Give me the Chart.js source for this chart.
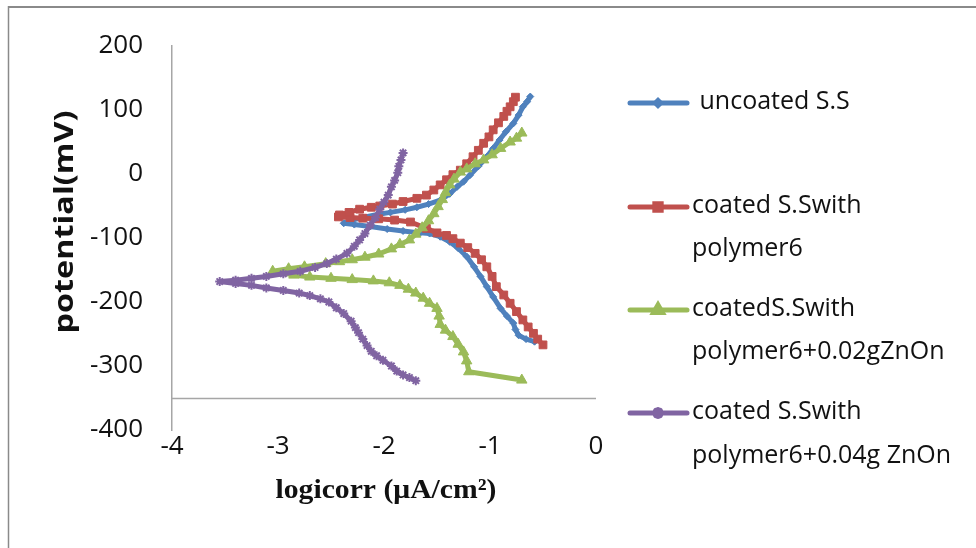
<!DOCTYPE html>
<html>
<head>
<meta charset="utf-8">
<script src="https://cdn.jsdelivr.net/npm/chart.js@4.4.1/dist/chart.umd.min.js"></script>
<style>
  html, body { margin: 0; padding: 0; background: #ffffff; }
  canvas { display: block; }
</style>
</head>
<body>
<canvas id="c" width="976" height="548"></canvas>
<script>
// ---- data ----
const seriesNames = [' uncoated S.S', 'coated S.Swith polymer6', 'coatedS.Swith polymer6+0.02gZnOn', 'coated S.Swith polymer6+0.04g ZnOn'];
const legendLines = [[' uncoated S.S'], ['coated S.Swith', 'polymer6'], ['coatedS.Swith', 'polymer6+0.02gZnOn'], ['coated S.Swith', 'polymer6+0.04g ZnOn']];
const xTicks = [-4, -3, -2, -1, 0];
const yTicks = [-400, -300, -200, -100, 0, 100, 200];

const blueX = [-0.58,-0.66,-0.73,-0.76,-0.78,-0.84,-0.90,-0.97,-1.03,-1.09,-1.15,-1.22,-1.30,-1.38,-1.47,-1.57,-1.66,-1.82,-1.97,-2.13,-2.28,-2.38,-2.30,-2.20,-2.05,-1.94,-1.80,-1.69,-1.58,-1.47,-1.38,-1.31,-1.25,-1.19,-1.11,-1.03,-0.97,-0.91,-0.85,-0.78,-0.73,-0.69,-0.65,-0.62];
const blueY = [-262,-258,-252,-243,-233,-222,-210,-192,-176,-160,-145,-129,-116,-106,-98,-93,-92,-89,-86,-82,-79,-77,-72,-68,-63,-60,-56,-52,-47,-41,-31,-20,-12,-2,12,27,40,53,66,79,92,105,113,121];

const redX = [-0.50,-0.55,-0.59,-0.64,-0.69,-0.75,-0.81,-0.87,-0.94,-0.98,-1.03,-1.08,-1.14,-1.21,-1.28,-1.35,-1.41,-1.50,-1.60,-1.75,-1.90,-2.05,-2.20,-2.32,-2.43,-2.42,-2.33,-2.23,-2.12,-2.04,-1.92,-1.82,-1.69,-1.60,-1.53,-1.47,-1.41,-1.35,-1.28,-1.22,-1.16,-1.11,-1.06,-1.01,-0.97,-0.92,-0.87,-0.84,-0.81,-0.78,-0.76];
const redY = [-267,-258,-249,-239,-228,-215,-202,-189,-176,-160,-145,-134,-124,-115,-108,-101,-96,-92,-85,-75,-72,-70,-69,-68,-67,-64,-60,-55,-52,-50,-47,-43,-38,-33,-25,-17,-9,-1,6,16,27,37,48,58,69,80,90,98,105,113,120];

const greenX = [-0.70,-1.20,-1.22,-1.25,-1.30,-1.35,-1.42,-1.47,-1.48,-1.50,-1.57,-1.63,-1.70,-1.77,-1.85,-1.95,-2.10,-2.30,-2.50,-2.70,-2.85,-3.05,-2.90,-2.75,-2.55,-2.42,-2.30,-2.18,-2.05,-1.93,-1.85,-1.76,-1.70,-1.64,-1.58,-1.53,-1.49,-1.45,-1.42,-1.38,-1.34,-1.28,-1.22,-1.14,-1.06,-0.98,-0.90,-0.81,-0.75,-0.70];
const greenY = [-322,-309,-292,-278,-266,-254,-244,-235,-222,-210,-202,-194,-186,-180,-174,-170,-167,-165,-163,-161,-158,-152,-148,-145,-140,-137,-134,-130,-125,-117,-110,-103,-94,-84,-73,-62,-51,-40,-29,-17,-8,3,8,16,22,30,40,50,56,64];

const purpleX = [-1.70,-1.76,-1.82,-1.88,-1.93,-2.01,-2.07,-2.12,-2.16,-2.20,-2.24,-2.27,-2.31,-2.38,-2.45,-2.52,-2.60,-2.70,-2.80,-2.95,-3.11,-3.25,-3.40,-3.55,-3.40,-3.25,-3.11,-2.95,-2.79,-2.65,-2.54,-2.45,-2.35,-2.28,-2.23,-2.18,-2.13,-2.08,-2.04,-2.00,-1.96,-1.93,-1.90,-1.87,-1.86,-1.84,-1.82];
const purpleY = [-323,-318,-314,-308,-300,-291,-284,-277,-268,-258,-248,-240,-230,-218,-209,-200,-195,-190,-186,-182,-178,-174,-171,-168,-166,-163,-160,-156,-152,-146,-140,-133,-124,-113,-103,-93,-80,-68,-55,-44,-33,-20,-10,2,12,22,33];

const xAxisCross = -350;

// ---- styles ----
const colors = ['#4F81BD', '#C0504D', '#9BBB59', '#8064A2'];
const pStyles = ['rectRot', 'rect', 'triangle', 'star'];
const pRadius = [3.5, 5.5, 6, 4.5];
const TICK_FONT = { family: 'Open Sans', size: 26 };

function pts(xs, ys) { return xs.map((x, i) => ({ x: x, y: ys[i] })); }
const allX = [blueX, redX, greenX, purpleX];
const allY = [blueY, redY, greenY, purpleY];

const datasets = allX.map((xs, i) => ({
  label: seriesNames[i],
  data: pts(xs, allY[i]),
  showLine: true,
  borderColor: colors[i],
  backgroundColor: colors[i],
  borderWidth: 5,
  borderJoinStyle: 'round',
  borderCapStyle: 'round',
  pointStyle: pStyles[i],
  pointRadius: pRadius[i],
  pointBorderColor: colors[i],
  pointBackgroundColor: colors[i],
  pointBorderWidth: i === 3 ? 2 : 1,
  tension: 0,
  order: 4 - i
}));

const framePlugin = {
  id: 'frame',
  beforeDraw(chart) {
    const ctx = chart.ctx;
    ctx.save();
    ctx.fillStyle = '#ffffff';
    ctx.fillRect(0, 0, chart.width, chart.height);
    ctx.strokeStyle = '#8a8a8a';
    ctx.lineWidth = 2;
    ctx.beginPath();
    ctx.moveTo(8, 7); ctx.lineTo(chart.width, 7);
    ctx.stroke();
    ctx.lineWidth = 1.5;
    ctx.beginPath();
    ctx.moveTo(8.5, 6); ctx.lineTo(8.5, chart.height);
    ctx.stroke();
    ctx.restore();
  },
  beforeDatasetsDraw(chart) {
    const ctx = chart.ctx, xs = chart.scales.x, ys = chart.scales.y;
    const yp = Math.round(ys.getPixelForValue(xAxisCross)) + 0.5;
    ctx.save();
    ctx.strokeStyle = '#a6a6a6';
    ctx.lineWidth = 1.5;
    ctx.beginPath();
    ctx.moveTo(xs.left, yp); ctx.lineTo(xs.right, yp);
    ctx.stroke();
    ctx.restore();
  },
  afterDraw(chart) {
    const ctx = chart.ctx;
    ctx.save();
    // y axis title
    ctx.fillStyle = '#111111';
    ctx.font = 'bold 27px "Open Sans"';
    ctx.textAlign = 'center';
    ctx.textBaseline = 'middle';
    const yt = 'potential(mV)';
    const w1 = ctx.measureText(yt).width;
    ctx.translate(65, 222);
    ctx.rotate(-Math.PI / 2);
    ctx.scale(223 / w1, 1);
    ctx.fillText(yt, 0, 0);
    ctx.restore();

    // x axis title
    ctx.save();
    ctx.fillStyle = '#111111';
    ctx.font = 'bold 28px "Liberation Serif"';
    ctx.textAlign = 'center';
    ctx.textBaseline = 'middle';
    const xt = 'logicorr (\u03bcA/cm\u00b2)';
    const w2 = ctx.measureText(xt).width;
    ctx.translate(386, 491);
    ctx.scale(221 / w2, 1);
    ctx.fillText(xt, 0, 0);
    ctx.restore();

    // legend
    const rows = [[103], [207, 250], [310, 353], [413, 457]];
    ctx.save();
    ctx.font = '25px "Open Sans"';
    ctx.textBaseline = 'middle';
    ctx.textAlign = 'left';
    legendLines.forEach((lines, i) => {
      const y = rows[i][0];
      ctx.strokeStyle = colors[i];
      ctx.lineWidth = 5;
      ctx.lineCap = 'round';
      ctx.beginPath();
      ctx.moveTo(630, y); ctx.lineTo(687, y);
      ctx.stroke();
      ctx.fillStyle = colors[i];
      Chart.helpers.drawPoint(ctx, {
        pointStyle: pStyles[i], radius: pRadius[i] - 1, rotation: 0,
        borderWidth: i === 3 ? 2 : 1
      }, 658, y);
      ctx.fillStyle = '#111111';
      lines.forEach((t, k) => {
        ctx.fillText(t, i === 0 ? 693 : 692, rows[i][k] - 1);
      });
    });
    ctx.restore();
  }
};

new Chart(document.getElementById('c'), {
  type: 'scatter',
  data: { datasets: datasets },
  plugins: [framePlugin],
  options: {
    responsive: false,
    devicePixelRatio: 1,
    animation: false,
    events: [],
    layout: { padding: { left: 0, right: 380, top: 46, bottom: 0 } },
    plugins: { legend: { display: false }, tooltip: { enabled: false }, title: { display: false } },
    scales: {
      x: {
        type: 'linear',
        position: 'bottom',
        min: xTicks[0],
        max: xTicks[xTicks.length - 1],
        afterBuildTicks(scale) { scale.ticks = xTicks.map(v => ({ value: v })); },
        ticks: { color: '#111111', font: TICK_FONT, padding: 1, maxRotation: 0, autoSkip: false },
        grid: { display: false, drawTicks: false },
        border: { display: false },
        afterFit(scale) { scale.height = 118; }
      },
      y: {
        type: 'linear',
        position: 'left',
        min: yTicks[0],
        max: yTicks[yTicks.length - 1],
        afterBuildTicks(scale) { scale.ticks = yTicks.map(v => ({ value: v })); },
        ticks: { color: '#111111', font: TICK_FONT, padding: 29, autoSkip: false },
        grid: { display: false, drawTicks: false },
        border: { display: true, color: '#a6a6a6', width: 1.5 },
        afterFit(scale) { scale.width = 172; }
      }
    }
  }
});
</script>
</body>
</html>
